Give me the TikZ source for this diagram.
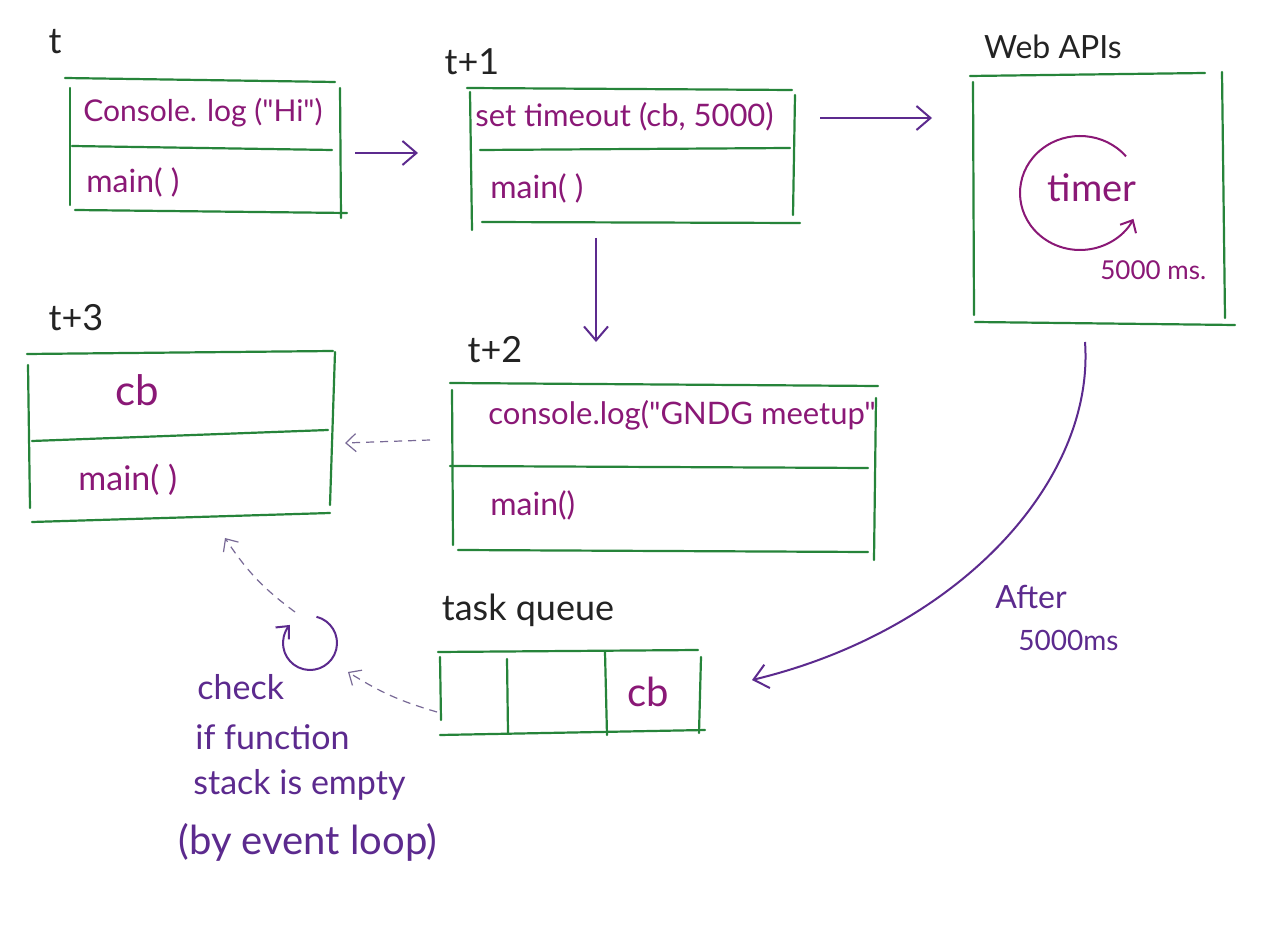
\documentclass[tikz,border=0pt]{standalone}
\usepackage{fontspec}
\setmainfont{Lato}[Ligatures=TeXOff]
\usetikzlibrary{arrows.meta}
\definecolor{boxgreen}{RGB}{38,132,58}
\definecolor{ink}{RGB}{138,24,118}
\definecolor{violetink}{RGB}{92,42,142}
\definecolor{pencil}{RGB}{35,35,35}
\definecolor{dashink}{RGB}{120,105,150}
\begin{document}
\begin{tikzpicture}[x=0.5pt,y=-0.5pt,
  edge/.style={boxgreen, line width=1.1pt, line cap=round},
  code/.style={ink, inner sep=0pt, font=\fontsize{15}{17}\selectfont},
  lbl/.style={pencil, inner sep=0pt, font=\fontsize{18}{20}\selectfont},
  note/.style={violetink, inner sep=0pt, anchor=west, font=\fontsize{17}{19}\selectfont},
  flow/.style={violetink, line width=1pt, -{Straight Barb[length=7pt,width=12pt]}},
  hint/.style={dashink, line width=0.6pt, dash pattern=on 4pt off 3pt, -{Straight Barb[length=5pt,width=9pt]}}]
\useasboundingbox[fill=white] (0,0) rectangle (1280,940);

% ---------- stack at t ----------
\node[lbl] (lt) at (55,42) {t};
\draw[edge] (65,78) -- (335,82);
\draw[edge] (70,88) -- (70,205);
\draw[edge] (340,88) -- (341,218);
\draw[edge] (72,146) -- (332,150);
\draw[edge] (75,210) -- (347,213);
\node[code, anchor=west, font=\fontsize{15}{17}\selectfont] (c0a) at (83,113) {Console. log ("Hi")};
\node[code, anchor=west, font=\fontsize{16}{18}\selectfont] (c0b) at (86,182) {main( )};
\coordinate (s0E) at (355,153);

% ---------- stack at t+1 ----------
\node[lbl] (lt1) at (472,62) {t+1};
\draw[edge] (467,88) -- (792,90);
\draw[edge] (470,92) -- (472,230);
\draw[edge] (795,95) -- (793,215);
\draw[edge] (480,150) -- (790,148);
\draw[edge] (482,222) -- (800,223);
\node[code, anchor=west, font=\fontsize{15.5}{17}\selectfont] (c1a) at (475,117) {set timeout (cb, 5000)};
\node[code, anchor=west, font=\fontsize{16}{18}\selectfont] (c1b) at (490,188) {main( )};
\coordinate (s1W) at (418,153);
\coordinate (s1E) at (820,118);
\coordinate (s1S) at (596,238);

% ---------- Web APIs ----------
\node[lbl, font=\fontsize{16}{18}\selectfont] (lweb) at (1053,47) {Web APIs};
\draw[edge] (970,76) -- (1205,73);
\draw[edge] (973,82) -- (974,315);
\draw[edge] (1222,72) -- (1225,318);
\draw[edge] (975,322) -- (1235,325);
\draw[ink, line width=1pt, -{Straight Barb[length=5pt,width=9pt]}]
  (1080,193) ++(40:30pt and 28.5pt) arc[start angle=40, end angle=333, x radius=30pt, y radius=28.5pt];
\node[code, font=\fontsize{19}{21}\selectfont] (timer) at (1092,188) {timer};
\node[code, anchor=west, font=\fontsize{13}{15}\selectfont] (ms) at (1100,270) {5000 ms.};
\coordinate (webW) at (932,118);
\coordinate (webS) at (1085,342);

% ---------- stack at t+2 ----------
\node[lbl] (lt2) at (495,350) {t+2};
\draw[edge] (450,383) -- (878,386);
\draw[edge] (452,390) -- (453,545);
\draw[edge] (876,398) -- (874,560);
\draw[edge] (450,466) -- (868,468);
\draw[edge] (458,550) -- (868,552);
\node[code, anchor=west, font=\fontsize{15.5}{18}\selectfont] (c2a) at (488,415) {console.log("GNDG meetup"};
\node[code, anchor=west, font=\fontsize{16}{18}\selectfont] (c2b) at (490,505) {main()};
\coordinate (s2N) at (596,342);
\coordinate (s2W) at (430,440);

% ---------- stack at t+3 ----------
\node[lbl] (lt3) at (76,318) {t+3};
\draw[edge] (27,354) -- (333,351);
\draw[edge] (28,365) -- (30,508);
\draw[edge] (335,352) -- (330,505);
\draw[edge] (32,441) -- (328,430);
\draw[edge] (32,522) -- (330,513);
\node[code, font=\fontsize{21}{23}\selectfont] (c3a) at (137,390) {cb};
\node[code, anchor=west, font=\fontsize{17}{19}\selectfont] (c3b) at (78,480) {main( )};
\coordinate (s3E) at (345,443);
\coordinate (s3S) at (225,538);

% ---------- task queue ----------
\node[lbl] (ltq) at (528,610) {task queue};
\draw[edge] (438,652) -- (698,650);
\draw[edge] (440,735) -- (705,730);
\draw[edge] (440,657) -- (441,720);
\draw[edge] (507,659) -- (508,733);
\draw[edge] (605,652) -- (607,735);
\draw[edge] (701,657) -- (699,733);
\node[code, font=\fontsize{20}{22}\selectfont] (qcb) at (648,692) {cb};
\coordinate (qE) at (752,680);
\coordinate (qW) at (437,712);

% ---------- event loop ----------
\draw[violetink, line width=1pt, -{Straight Barb[length=5pt,width=9pt]}]
  (310,643) ++(76:13.5pt) arc[start angle=76, end angle=-222, radius=13.5pt];
\coordinate (loopE) at (348,672);
\coordinate (loopN) at (295,612);
\node[note] (ck1) at (197,687) {check};
\node[note] (ck2) at (195,737) {if function};
\node[note] (ck3) at (193,785) {stack is empty};
\node[note, font=\fontsize{20}{22}\selectfont] (ck4) at (178,842) {(by event loop)};

\node[note, font=\fontsize{16}{18}\selectfont] (after1) at (995,597) {After};
\node[note, font=\fontsize{14}{16}\selectfont] (after2) at (1018,640) {5000ms};

% ---------- connectors ----------
\draw[flow] (s0E) -- (s1W);
\draw[flow] (s1E) -- (webW);
\draw[flow] (s1S) -- (s2N);
\draw[flow] (webS) .. controls (1095,480) and (960,630) .. (qE);
\draw[hint] (s2W) -- (s3E);
\draw[hint] (qW) to[bend left=8] (loopE);
\draw[hint] (loopN) to[bend left=10] (s3S);
\end{tikzpicture}
\end{document}
